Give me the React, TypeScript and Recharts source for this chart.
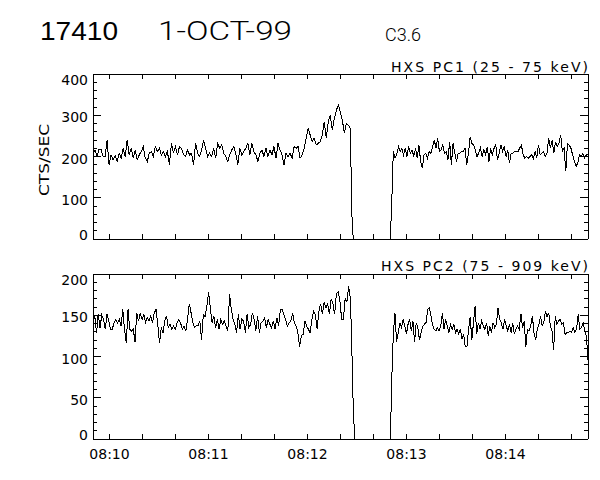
import React from "react";
import { LineChart, Line, XAxis, YAxis } from "recharts";

// HXS PC1 count rate (before the data gap, gap edges, after)
const pc1Before = [
  205, 215, 200, 218, 218, 200,
  200, 240, 180, 204, 192, 202, 188, 208, 196, 220,
  200, 240, 204, 220, 196, 216, 192, 204, 212, 224,
  196, 188, 208, 212, 200, 224, 212, 220, 204, 212,
  200, 212, 180, 232, 208, 224, 204, 224, 220, 204,
  200, 216, 204, 208, 180, 232, 208, 200, 216, 240,
  220, 200, 208, 200, 220, 196, 232, 220, 228, 208,
  200, 188, 204, 216, 224, 208, 180, 220, 204, 212,
  220, 232, 204, 232, 212, 204, 188, 208, 216, 200,
  220, 200, 216, 204, 224, 196, 232, 216, 204, 180,
  208, 200, 208, 196, 224, 220, 224, 196, 204, 220,
  244, 268, 252, 236, 244, 228, 232, 236, 252, 284,
  244, 284, 300, 264, 292, 312,
  325, 308, 288, 256, 280, 276, 268,
];
const pc1Gap = [66, 0, 0, 0, 107];
const pc1After = [
  212, 196, 204, 224, 212, 220, 204, 220, 200, 224,
  208, 216, 200, 220, 196, 228, 188, 172, 204, 208,
  196, 212, 208, 224, 240, 220, 244, 212, 216, 228,
  208, 212, 192, 236, 180, 232, 208, 188, 208, 208,
  212, 212, 220, 180, 208, 248, 232, 228, 216, 200,
  208, 220, 200, 216, 204, 224, 188, 220, 204, 220,
  228, 192, 208, 228, 212, 224, 200, 216, 184, 208,
  208, 212, 212, 212, 220, 228, 204, 196, 200, 196,
  200, 204, 196, 212, 196, 228, 204, 208, 212, 200,
  208, 244, 220, 240, 208, 236, 224, 232, 252, 212,
  220, 164, 232, 228, 220, 204, 188, 176, 184, 204,
  200, 208, 196, 204, 204,
];

// HXS PC2 count rate
const pc2Before = [
  140, 150, 128, 152, 135, 150, 145,
  133, 151, 143, 133, 133, 141, 145, 141, 145, 137,
  157, 133, 116, 157, 133, 131, 133, 118, 153, 143,
  153, 145, 151, 141, 147, 143, 149, 141, 153, 157,
  139, 116, 135, 129, 143, 149, 135, 139, 133, 137,
  133, 141, 145, 141, 133, 137, 131, 145, 164, 153,
  141, 135, 137, 137, 143, 120, 151, 148, 161, 178,
  159, 141, 149, 135, 145, 133, 145, 139, 143, 137,
  131, 176, 157, 145, 139, 129, 151, 133, 145, 143,
  129, 151, 135, 139, 153, 145, 131, 149, 129, 141,
  143, 147, 135, 145, 139, 135, 143, 133, 147, 137,
  157, 157, 151, 145, 137, 141, 143, 153, 141, 137,
  129, 112, 125, 127, 143, 137, 133, 129, 145, 155,
  151, 133, 155, 164, 151, 166, 159, 164, 151, 170,
  164, 151, 176,
  178, 168, 145, 145, 170, 166, 185, 170,
];
const pc2Gap = [116, 39, 0, 0, 80];
const pc2After = [
  127, 153, 118, 129, 141, 135, 145, 137, 127, 139,
  145, 131, 143, 118, 141, 135, 120, 129, 137, 139,
  141, 157, 159, 149, 139, 133, 131, 135, 131, 137,
  153, 133, 145, 137, 129, 139, 133, 139, 129, 133,
  127, 133, 121, 127, 112, 112, 133, 148, 120, 141,
  161, 127, 141, 133, 143, 137, 133, 141, 125, 137,
  129, 141, 135, 139, 159, 145, 141, 133, 145, 137,
  131, 139, 129, 141, 127, 133, 137, 133, 152, 135,
  143, 112, 133, 131, 137, 149, 129, 120, 133, 139,
  149, 137, 141, 155, 148, 153, 137, 131, 108, 149,
  139, 143, 145, 139, 141, 127, 129, 129, 131, 129,
  135, 129, 133, 151, 133, 135, 141, 131, 125, 96,
];

// time in seconds from 08:10:00
const T_START = -10;
const T_END = 290;
const BEFORE_END = 146;
const AFTER_START = 172;
const gapTimes = [146.8, 147.7, 148.6, 170.2, 171.2];

const timeLabels = ["08:10", "08:11", "08:12", "08:13", "08:14"];
const pc1Labels = ["0", "100", "200", "300", "400"];
const pc2Labels = ["0", "50", "100", "150", "200"];

const FONT = "'DejaVu Sans', sans-serif";

function buildSeries(before: number[], gap: number[], after: number[]) {
  const rows: { t: number; v: number }[] = [];
  before.forEach((v, i) =>
    rows.push({ t: T_START + (i * (BEFORE_END - T_START)) / (before.length - 1), v })
  );
  gap.forEach((v, i) => rows.push({ t: gapTimes[i], v }));
  after.forEach((v, i) =>
    rows.push({ t: AFTER_START + (i * (T_END - AFTER_START)) / (after.length - 1), v })
  );
  return rows;
}

const pc1Data = buildSeries(pc1Before, pc1Gap, pc1After);
const pc2Data = buildSeries(pc2Before, pc2Gap, pc2After);

const xTicks: number[] = [];
for (let s = 0; s < T_END; s += 20) xTicks.push(s);

function yTicksFor(max: number, minor: number) {
  const out: number[] = [];
  for (let v = 0; v <= max; v += minor) out.push(v);
  return out;
}

const BottomTick = (props: any) => {
  const { x, y, payload, showLabels } = props;
  const v = payload.value;
  const label = showLabels && v % 60 === 0 ? timeLabels[v / 60] : null;
  return (
    <g>
      <line x1={x} x2={x} y1={y} y2={y - 5} stroke="#000" />
      {label && (
        <text x={x} y={y + 20} textAnchor="middle" fontSize={14} fontFamily={FONT} fill="#000">
          {label}
        </text>
      )}
    </g>
  );
};

const TopTick = (props: any) => {
  const { x, y } = props;
  return <line x1={x} x2={x} y1={y} y2={y + 5} stroke="#000" />;
};

const LeftTick = (props: any) => {
  const { x, y, payload, major, max, labels } = props;
  const v = payload.value;
  const isMajor = v % major === 0;
  let dy = 2;
  if (v === 0) dy = -4;
  if (v === max) dy = 6;
  return (
    <g>
      <line x1={x} x2={x + (isMajor ? 8 : 4)} y1={y} y2={y} stroke="#000" />
      {isMajor && (
        <text
          x={x - 5}
          y={y + dy + 5}
          textAnchor="end"
          fontSize={14}
          fontFamily={FONT}
          fill="#000"
        >
          {labels[v / major]}
        </text>
      )}
    </g>
  );
};

const RightTick = (props: any) => {
  const { x, y, payload, major } = props;
  const isMajor = payload.value % major === 0;
  return <line x1={x} x2={x - (isMajor ? 8 : 4)} y1={y} y2={y} stroke="#000" />;
};

type PanelProps = {
  data: { t: number; v: number }[];
  max: number;
  major: number;
  minor: number;
  labels: string[];
  top: number;
  bottom: number;
  showTimeLabels: boolean;
};

const Panel = ({ data, max, major, minor, labels, top, bottom, showTimeLabels }: PanelProps) => {
  const yTicks = yTicksFor(max, minor);
  const axisLine = { stroke: "#000", strokeWidth: 1 };
  return (
    <div style={{ position: "absolute", left: 0, top: 0 }}>
      <LineChart
        width={600}
        height={480}
        data={data}
        margin={{ top, right: 2, bottom, left: 33 }}
        style={{ shapeRendering: "crispEdges" }}
      >
        <XAxis
          type="number"
          dataKey="t"
          domain={[T_START, T_END]}
          ticks={xTicks}
          interval={0}
          allowDataOverflow
          height={10}
          tickSize={0}
          tickMargin={0}
          tickLine={false}
          axisLine={axisLine}
          tick={(p: any) => <BottomTick {...p} showLabels={showTimeLabels} />}
        />
        <XAxis
          xAxisId="top"
          orientation="top"
          type="number"
          dataKey="t"
          domain={[T_START, T_END]}
          ticks={xTicks}
          interval={0}
          allowDataOverflow
          height={10}
          tickSize={0}
          tickMargin={0}
          tickLine={false}
          axisLine={axisLine}
          tick={(p: any) => <TopTick {...p} />}
        />
        <YAxis
          type="number"
          domain={[0, max]}
          ticks={yTicks}
          interval={0}
          allowDataOverflow
          width={60}
          tickSize={0}
          tickMargin={0}
          tickLine={false}
          axisLine={axisLine}
          tick={(p: any) => <LeftTick {...p} major={major} max={max} labels={labels} />}
        />
        <YAxis
          yAxisId="right"
          orientation="right"
          type="number"
          domain={[0, max]}
          ticks={yTicks}
          interval={0}
          allowDataOverflow
          width={10}
          tickSize={0}
          tickMargin={0}
          tickLine={false}
          axisLine={axisLine}
          tick={(p: any) => <RightTick {...p} major={major} />}
        />
        <Line
          xAxisId="top"
          yAxisId="right"
          dataKey="v"
          stroke="transparent"
          dot={false}
          isAnimationActive={false}
        />
        <Line
          dataKey="v"
          type="linear"
          stroke="#000"
          strokeWidth={1}
          dot={false}
          isAnimationActive={false}
        />
      </LineChart>
    </div>
  );
};

export default function App() {
  return (
    <div
      style={{
        position: "absolute",
        left: 0,
        top: 0,
        width: 600,
        height: 480,
        background: "#fff",
        overflow: "hidden",
      }}
    >
      <Panel
        data={pc1Data}
        max={400}
        major={100}
        minor={20}
        labels={pc1Labels}
        top={64}
        bottom={231}
        showTimeLabels={false}
      />
      <Panel
        data={pc2Data}
        max={200}
        major={50}
        minor={10}
        labels={pc2Labels}
        top={264}
        bottom={31}
        showTimeLabels={true}
      />
      <svg
        width={600}
        height={480}
        style={{ position: "absolute", left: 0, top: 0, pointerEvents: "none" }}
      >
        <text x={40} y={40} fontSize={25} fontFamily="'Liberation Sans', Arial, sans-serif" textLength={78} lengthAdjust="spacingAndGlyphs">
          17410
        </text>
        <text x={158} y={40} fontSize={25} fontWeight={300} fontFamily="Roboto, 'Liberation Sans', sans-serif" textLength={134} lengthAdjust="spacingAndGlyphs">
          1-OCT-99
        </text>
        <text x={385} y={41} fontSize={19} fontWeight={300} fontFamily="Roboto, 'Liberation Sans', sans-serif" textLength={36} lengthAdjust="spacingAndGlyphs">
          C3.6
        </text>
        <text x={391} y={72} fontSize={14} fontFamily={FONT} textLength={197} lengthAdjust="spacing">
          HXS PC1 (25 - 75 keV)
        </text>
        <text x={381} y={271} fontSize={14} fontFamily={FONT} textLength={207} lengthAdjust="spacing">
          HXS PC2 (75 - 909 keV)
        </text>
        <text
          transform="translate(49,160) rotate(-90)"
          textAnchor="middle"
          fontSize={14}
          fontFamily={FONT}
          textLength={72}
          lengthAdjust="spacingAndGlyphs"
        >
          CTS/SEC
        </text>
      </svg>
    </div>
  );
}
